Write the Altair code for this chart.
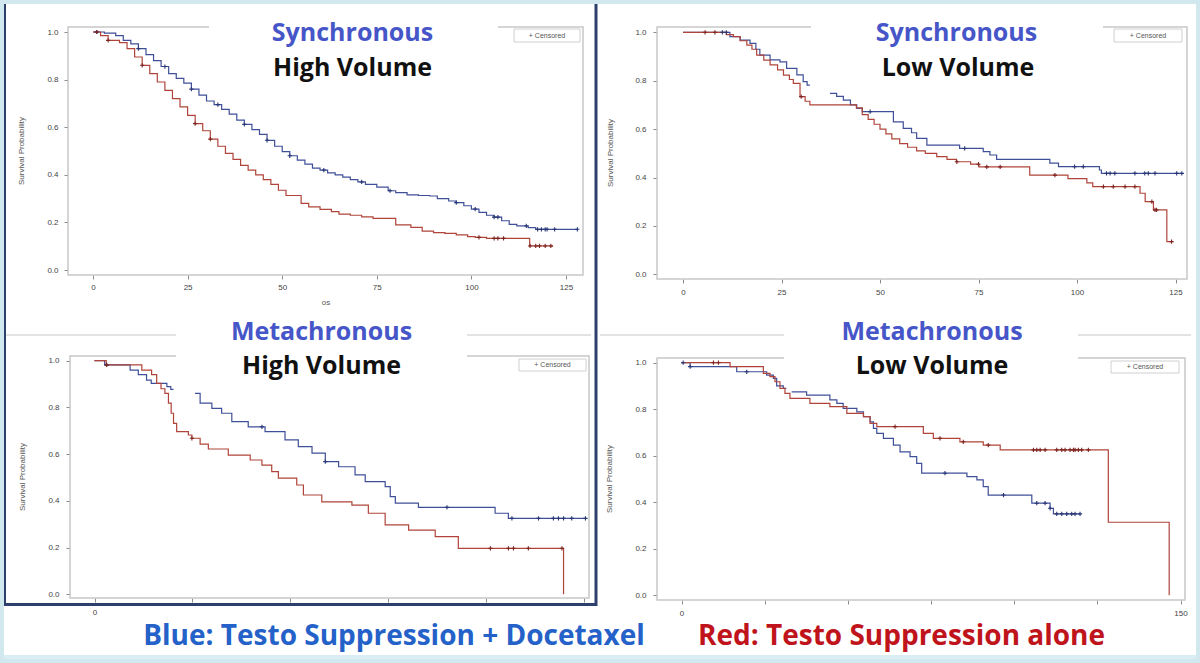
import altair as alt
import pandas as pd

W, H = 1200, 663

BLUE_LINE = "#3f4f98"
RED_LINE = "#b0443a"
BLUE_MARK = "#283775"
RED_MARK = "#7e2420"
TITLE_BLUE = "#4656c8"

# ---------------- Kaplan-Meier steps: months (t) and survival probability (s) ----------------
# Synchronous / High Volume
p1_blue_t = [0, 3, 6, 8, 10, 12, 14, 16, 18, 20, 22, 24, 26, 28, 30, 32, 34, 36, 38, 40, 42, 44, 46, 48,
             50, 52, 54, 56, 58, 60, 62, 64, 66, 68, 70, 72, 75, 78, 80, 83, 86, 89, 91, 94, 96, 98, 100,
             102, 104, 106, 108, 110, 112, 115, 117, 128]
p1_blue_s = [1.0, 0.995, 0.985, 0.965, 0.95, 0.93, 0.905, 0.88, 0.855, 0.825, 0.805, 0.785, 0.76, 0.735,
             0.71, 0.695, 0.675, 0.655, 0.63, 0.612, 0.59, 0.57, 0.545, 0.52, 0.497, 0.48, 0.462, 0.445,
             0.428, 0.42, 0.408, 0.40, 0.39, 0.38, 0.37, 0.36, 0.348, 0.333, 0.325, 0.316, 0.313, 0.311,
             0.30, 0.29, 0.283, 0.27, 0.256, 0.242, 0.23, 0.222, 0.207, 0.192, 0.185, 0.178, 0.171, 0.171]
p1_red_t = [0, 2, 4, 7, 9, 11, 13, 15, 17, 19, 21, 23, 25, 27, 29, 31, 33, 35, 37, 39, 41, 43, 45, 47, 49,
            51, 55, 57, 60, 63, 65, 68, 71, 74, 80, 84, 87, 90, 93, 96, 99, 101, 104, 115.4, 121.6]
p1_red_s = [1.0, 0.985, 0.965, 0.955, 0.93, 0.895, 0.86, 0.825, 0.79, 0.755, 0.72, 0.685, 0.65, 0.615,
            0.585, 0.55, 0.52, 0.49, 0.465, 0.44, 0.42, 0.40, 0.38, 0.36, 0.335, 0.313, 0.28, 0.265, 0.255,
            0.245, 0.235, 0.23, 0.223, 0.217, 0.19, 0.179, 0.163, 0.157, 0.154, 0.148, 0.14, 0.137, 0.133,
            0.101, 0.101]
p1_blue_cens = [1, 12, 19, 26, 33, 40, 46, 52, 61, 71, 78.5, 96, 101, 106, 107, 114.5, 117.5, 118.5,
                119.5, 120, 122, 128]
p1_red_cens = [1, 4, 13, 27, 31, 102, 106, 107, 108.5, 115.5, 117, 118, 119.5, 121]

# Synchronous / Low Volume
p2_red_t = [0, 11, 12.8, 14.5, 16.2, 17.5, 18.7, 20.5, 22.1, 24, 25.5, 27, 28, 29.7, 31, 32.2, 44, 45.5,
            47, 48.5, 50, 51.5, 53, 55, 57, 59.3, 61.5, 64.4, 67, 69.4, 73, 75.1, 88, 97.7, 102.5, 104,
            116, 117.3, 119.4, 122.8, 124]
p2_red_s = [1.0, 0.99, 0.982, 0.965, 0.947, 0.93, 0.906, 0.885, 0.865, 0.845, 0.823, 0.805, 0.789, 0.734,
            0.715, 0.70, 0.688, 0.66, 0.64, 0.62, 0.60, 0.58, 0.56, 0.54, 0.525, 0.51, 0.50, 0.486, 0.475,
            0.465, 0.455, 0.444, 0.41, 0.395, 0.378, 0.362, 0.335, 0.30, 0.266, 0.135, 0.135]
p2_blue_t_a = [0, 11.9, 14.5, 17, 18.5, 19.5, 22.1, 24.6, 26.3, 28.9, 30.5, 31.5, 32.2]
p2_blue_s_a = [1.0, 0.982, 0.968, 0.954, 0.93, 0.906, 0.886, 0.878, 0.851, 0.824, 0.796, 0.782, 0.782]
p2_blue_t_b = [37.3, 39, 40.7, 42.5, 44.1, 45.5, 53.4, 55.9, 58, 59.3, 61.9, 70.2, 76.2, 77.9, 79.6, 93.1,
               95.3, 105.7, 106.2, 126.6]
p2_blue_s_b = [0.748, 0.735, 0.72, 0.70, 0.686, 0.672, 0.63, 0.603, 0.585, 0.562, 0.534, 0.52, 0.507,
               0.493, 0.475, 0.459, 0.445, 0.431, 0.417, 0.417]
p2_blue_cens = [10, 11, 47.5, 71.5, 99.4, 101.6, 107.5, 108.4, 109.6, 114.7, 117.2, 118.1, 119.8, 125.3, 126.6]
p2_red_cens = [5.6, 8.1, 30, 69.5, 75, 77.1, 80.5, 94.4, 106.7, 109.2, 112.2, 114.7, 119, 119.8, 120.2, 124]

# Metachronous / High Volume
p3_red_t = [0, 3, 12.1, 14.6, 15.9, 17, 18, 18.9, 19.6, 20.2, 21, 24, 24.9, 27, 29.1, 34.2, 39.8, 42.8,
            45.3, 47, 51.7, 53.4, 58.1, 65.8, 70, 74.3, 80.3, 87.1, 93, 119.9]
p3_red_s = [1.0, 0.982, 0.96, 0.94, 0.903, 0.88, 0.86, 0.818, 0.775, 0.732, 0.696, 0.682, 0.668, 0.643,
            0.622, 0.596, 0.575, 0.553, 0.525, 0.497, 0.468, 0.425, 0.396, 0.382, 0.347, 0.297, 0.275,
            0.247, 0.197, 0.0]
p3_blue_t_a = [0, 2.6, 9.1, 11.2, 13.3, 14.5, 18.5, 19.5, 20.2]
p3_blue_s_a = [1.0, 0.982, 0.96, 0.94, 0.917, 0.903, 0.889, 0.877, 0.877]
p3_blue_t_b = [25.7, 27, 30, 32.5, 35.1, 39.3, 43.6, 48.7, 52.1, 55.6, 59, 62.4, 66.6, 69.2, 74.3, 75.6,
               76.9, 82.8, 102.4, 105.8, 125.5]
p3_blue_s_b = [0.86, 0.818, 0.796, 0.775, 0.739, 0.717, 0.696, 0.661, 0.632, 0.604, 0.568, 0.546, 0.511,
               0.482, 0.461, 0.418, 0.39, 0.372, 0.347, 0.325, 0.325]
p3_blue_cens = [3.1, 42.8, 59, 90.1, 106.7, 113.5, 117.3, 118.6, 119.9, 122, 125.5]
p3_red_cens = [3.1, 24.9, 101.2, 105.8, 107.1, 110.9, 119.5]

# Metachronous / Low Volume
p4_red_t = [0, 14.6, 24.6, 26.6, 28.1, 29.6, 31.1, 32.6, 38.6, 44.6, 49.7, 54.7, 56.7, 58.7, 72.7, 75.7,
            83.7, 90.7, 95.8, 128.3, 146.6]
p4_red_s = [1.0, 0.983, 0.954, 0.94, 0.918, 0.89, 0.868, 0.847, 0.825, 0.811, 0.782, 0.768, 0.739, 0.725,
            0.696, 0.675, 0.66, 0.646, 0.625, 0.314, 0.0]
p4_blue_t_a = [0, 2.6, 16.6, 25.6, 27.6, 28.6, 30.6, 31.5]
p4_blue_s_a = [1.0, 0.983, 0.961, 0.947, 0.933, 0.90, 0.89, 0.89]
p4_blue_t_b = [33.1, 37.6, 44.6, 46.7, 48.6, 52.7, 54.7, 56.7, 57.7, 58.7, 60.7, 63.7, 65.7, 68.7, 70.7,
               72.2, 85.8, 88.8, 90.7, 92.2, 105.3, 110.8, 111.8, 119.8]
p4_blue_s_b = [0.875, 0.861, 0.84, 0.825, 0.804, 0.789, 0.768, 0.746, 0.718, 0.696, 0.675, 0.646, 0.617,
               0.596, 0.567, 0.525, 0.51, 0.496, 0.467, 0.431, 0.396, 0.374, 0.35, 0.35]
p4_blue_cens = [0.5, 2.6, 19.6, 79.2, 96.8, 106.8, 109.3, 110.8, 112.8, 114.3, 115.8, 117.3, 118.3, 119.8]
p4_red_cens = [9.6, 11.1, 64.2, 77.7, 84.7, 92.2, 105.8, 106.8, 107.8, 109.3, 112.8, 114.3, 115.3, 116.8,
               117.8, 118.3, 119.3, 120.3, 122.3]

Y_TICKS = [0, 0.2, 0.4, 0.6, 0.8, 1.0]
X_TICKS_125 = [0, 25, 50, 75, 100, 125]
X_TICKS_150 = [0, 25, 50, 75, 100, 125, 150]

PLUS = "M0,-1L0,1M-1,0L1,0"


def curve_df(segments):
    rows = []
    for k, (ts, ss) in enumerate(segments):
        for t, s in zip(ts, ss):
            rows.append({"t": t, "s": s, "seg": k})
    return pd.DataFrame(rows)


def censor_df(times, segments):
    ts = [t for seg_t, _ in segments for t in seg_t]
    ss = [s for _, seg_s in segments for s in seg_s]
    rows = []
    for c in times:
        v = ss[0]
        for ti, si in zip(ts, ss):
            if ti <= c:
                v = si
        rows.append({"t": c, "s": v})
    return pd.DataFrame(rows)


def panel(blue_segs, red_segs, blue_cens, red_cens, xmax, xrange, yrange, frame, xticks, xlabel_expr,
          xpad, ypad):
    fx0, fy0, fx1, fy1 = frame
    xs = alt.Scale(domain=[0, xmax], range=xrange, nice=False, zero=False)
    ys = alt.Scale(domain=[0, 1], range=yrange, nice=False, zero=False)
    xa = alt.Axis(orient="bottom", offset=fy1 - H, values=xticks, labelExpr=xlabel_expr, domain=False,
                  grid=False, tickSize=4, tickColor="#8a8a8a", labelFontSize=8, labelColor="#444",
                  labelFont="Liberation Sans", labelPadding=xpad, labelFlush=False, labelOverlap=False,
                  title=None)
    ya = alt.Axis(orient="left", offset=-fx0, values=Y_TICKS, format=".1f", domain=False, grid=False,
                  tickSize=4, tickColor="#8a8a8a", labelFontSize=8, labelColor="#444",
                  labelFont="Liberation Sans", labelPadding=ypad, title=None)

    def enc(ch):
        return ch.encode(x=alt.X("t:Q", scale=xs, axis=xa), y=alt.Y("s:Q", scale=ys, axis=ya))

    blue_line = enc(alt.Chart(curve_df(blue_segs)).mark_line(
        interpolate="step-after", color=BLUE_LINE, strokeWidth=1.2)).encode(detail="seg:N")
    red_line = enc(alt.Chart(curve_df(red_segs)).mark_line(
        interpolate="step-after", color=RED_LINE, strokeWidth=1.2)).encode(detail="seg:N")
    blue_pts = enc(alt.Chart(censor_df(blue_cens, blue_segs)).mark_point(
        shape=PLUS, size=18, filled=False, color=BLUE_MARK, strokeWidth=1.1, opacity=1))
    red_pts = enc(alt.Chart(censor_df(red_cens, red_segs)).mark_point(
        shape=PLUS, size=18, filled=False, color=RED_MARK, strokeWidth=1.1, opacity=1))
    return alt.layer(blue_line, red_line, blue_pts, red_pts)


p1 = panel([(p1_blue_t, p1_blue_s)], [(p1_red_t, p1_red_s)], p1_blue_cens, p1_red_cens,
           125, [93, 566], [270, 32], (68, 27, 583, 275), X_TICKS_125, "datum.label", 4, 6)
p2 = panel([(p2_blue_t_a, p2_blue_s_a), (p2_blue_t_b, p2_blue_s_b)], [(p2_red_t, p2_red_s)],
           p2_blue_cens, p2_red_cens,
           125, [683, 1175.5], [274.3, 32.3], (657, 27, 1187, 279), X_TICKS_125, "datum.label", 5, 7)
p3 = panel([(p3_blue_t_a, p3_blue_s_a), (p3_blue_t_b, p3_blue_s_b)], [(p3_red_t, p3_red_s)],
           p3_blue_cens, p3_red_cens,
           125, [94.5, 583.5], [594.3, 360.7], (70, 356, 589, 598), X_TICKS_125,
           "datum.value == 0 ? datum.label : ''", 6, 7)
p4 = panel([(p4_blue_t_a, p4_blue_s_a), (p4_blue_t_b, p4_blue_s_b)], [(p4_red_t, p4_red_s)],
           p4_blue_cens, p4_red_cens,
           150, [681.5, 1180.5], [595.3, 362.7], (657, 358, 1185, 600), X_TICKS_150,
           "datum.value == 0 || datum.value == 150 ? datum.label : ''", 5, 7)


# ---------------- page furniture (pixel positioned) ----------------
def px_rect(df, **mark):
    return alt.Chart(df).mark_rect(**mark).encode(
        x=alt.X("x:Q", scale=None), x2="x2:Q", y=alt.Y("y:Q", scale=None), y2="y2:Q")


def px_text(df, **mark):
    return alt.Chart(df).mark_text(**mark).encode(
        x=alt.X("x:Q", scale=None), y=alt.Y("y:Q", scale=None), text="label:N",
        color=alt.Color("c:N", scale=None))


bottom_band = px_rect(pd.DataFrame({"x": [0], "x2": [W], "y": [655], "y2": [H]}), color="#d9edf2")

frames = px_rect(pd.DataFrame({"x": [68, 657, 70, 657], "x2": [583, 1187, 589, 1185],
                               "y": [27, 27, 356, 358], "y2": [275, 279, 598, 600]}),
                 fillOpacity=0, stroke="#c8c8c8", strokeWidth=1.5)

slide_lines = alt.Chart(pd.DataFrame({"x": [5, 467, 600, 1078], "x2": [176, 591, 784, 1191],
                                      "y": [335, 335, 335, 335]})).mark_rule(
    color="#dadada", strokeWidth=1.5).encode(x=alt.X("x:Q", scale=None), x2="x2:Q",
                                               y=alt.Y("y:Q", scale=None))

title_boxes = px_rect(pd.DataFrame({"x": [209, 811, 176, 784], "x2": [498, 1103, 467, 1078],
                                    "y": [18, 18, 330, 330], "y2": [36, 36, 364, 366]}),
                      color="white")

titles = px_text(pd.DataFrame({
    "label": ["Synchronous", "High Volume", "Synchronous", "Low Volume",
              "Metachronous", "High Volume", "Metachronous", "Low Volume"],
    "x": [352.5, 352.5, 956.5, 958, 321.5, 321.5, 932, 932],
    "y": [41, 76, 41, 76, 340, 374, 340, 374],
    "c": [TITLE_BLUE, "#111111"] * 4}),
    font="Open Sans", fontWeight="bold", fontSize=25, align="center", baseline="alphabetic")

legend_boxes = px_rect(pd.DataFrame({"x": [514, 1114, 519, 1111], "x2": [580, 1182, 586, 1179],
                                     "y": [29, 29, 359, 361], "y2": [42, 42, 371, 373]}),
                       color="white", stroke="#d0d0d0", strokeWidth=1)
legend_text = px_text(pd.DataFrame({"label": ["+ Censored"] * 4, "x": [547, 1148, 552.5, 1145],
                                    "y": [35.5, 35.5, 365, 367], "c": ["#555555"] * 4}),
                      font="Liberation Sans", fontSize=7, align="center", baseline="middle")

y_titles = px_text(pd.DataFrame({"label": ["Survival Probability"] * 4, "x": [22, 611, 23, 610],
                                 "y": [151, 153, 477, 479], "c": ["#555555"] * 4}),
                   font="Liberation Sans", fontSize=8, angle=270, align="center", baseline="middle")
x_title = px_text(pd.DataFrame({"label": ["os"], "x": [326], "y": [303], "c": ["#555555"]}),
                  font="Liberation Sans", fontSize=8, align="center", baseline="middle")

arm_legend = px_text(pd.DataFrame({
    "label": ["Blue: Testo Suppression + Docetaxel", "Red: Testo Suppression alone"],
    "x": [394, 901.5], "y": [645, 645], "c": ["#2461c8", "#c0141c"]}),
    font="Open Sans", fontWeight="bold", fontSize=28, align="center", baseline="alphabetic")

navy_box = px_rect(pd.DataFrame({"x": [4.5], "x2": [596], "y": [2], "y2": [604.5]}),
                   fillOpacity=0, stroke="#2d3f6c", strokeWidth=3)
page_edge = px_rect(pd.DataFrame({"x": [0], "x2": [W], "y": [0], "y2": [H]}),
                    fillOpacity=0, stroke="#d2e8ef", strokeWidth=8)

chart = alt.layer(
    bottom_band, frames, slide_lines,
    p1, p2, p3, p4,
    title_boxes, titles, legend_boxes, legend_text, y_titles, x_title, arm_legend,
    navy_box, page_edge,
).resolve_scale(x="independent", y="independent").properties(
    width=W, height=H, autosize=alt.AutoSizeParams(type="none"), padding=0, background="white"
).configure_view(strokeWidth=0)

chart.save("out.html", embed_options={"renderer": "svg", "actions": False})
